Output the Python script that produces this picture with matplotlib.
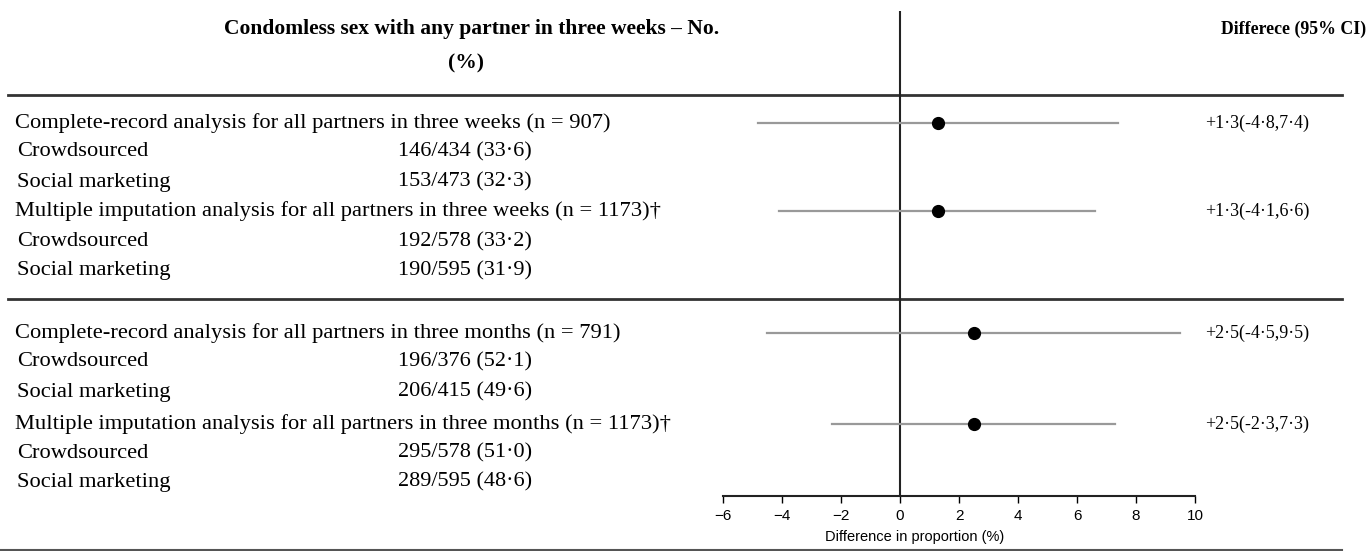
import matplotlib
matplotlib.use('Agg')
import matplotlib.pyplot as plt

# Table content
row_labels = [
    'Complete-record analysis for all partners in three weeks (n = 907)',
    'Crowdsourced', 'Social marketing',
    'Multiple imputation analysis for all partners in three weeks (n = 1173)\u2020',
    'Crowdsourced', 'Social marketing',
    'Complete-record analysis for all partners in three months (n = 791)',
    'Crowdsourced', 'Social marketing',
    'Multiple imputation analysis for all partners in three months (n = 1173)\u2020',
    'Crowdsourced', 'Social marketing',
]
row_counts = ['', '146/434 (33\u00b76)', '153/473 (32\u00b73)',
              '', '192/578 (33\u00b72)', '190/595 (31\u00b79)',
              '', '196/376 (52\u00b71)', '206/415 (49\u00b76)',
              '', '295/578 (51\u00b70)', '289/595 (48\u00b76)']

# Forest plot estimates (one per analysis)
est = [1.3, 1.3, 2.5, 2.5]
ci_low = [-4.8, -4.1, -4.5, -2.3]
ci_high = [7.4, 6.6, 9.5, 7.3]
ci_text = ['+1\u00b73(-4\u00b78,7\u00b74)', '+1\u00b73(-4\u00b71,6\u00b76)',
           '+2\u00b75(-4\u00b75,9\u00b75)', '+2\u00b75(-2\u00b73,7\u00b73)']
xticks = [-6, -4, -2, 0, 2, 4, 6, 8, 10]

# layout (pixel rows)
W, H = 1370, 551
row_y = [123, 152, 182, 211, 242, 271, 333, 362, 392, 424, 453, 482]
analysis_rows = [0, 3, 6, 9]
serif = 'Liberation Serif'
sans = 'Liberation Sans'

fig = plt.figure(figsize=(W / 100, H / 100), dpi=100)
bg = fig.add_axes([0, 0, 1, 1])
bg.set_xlim(0, W)
bg.set_ylim(H, 0)
bg.axis('off')

# headers
bg.text(472, 29, 'Condomless sex with any partner in three weeks \u2013 No.',
        ha='center', va='center', family=serif, fontweight='bold', fontsize=15.5)
bg.text(466, 63, '(%)', ha='center', va='center', family=serif,
        fontweight='bold', fontsize=15.5)
bg.text(1366, 29, 'Differece (95% CI)', ha='right', va='center', family=serif,
        fontweight='bold', fontsize=12.8)

# rule lines
for yl in [95, 299]:
    bg.plot([8, 1342], [yl, yl], color='#333333', lw=2)
bg.plot([0, 1342], [550, 550], color='#555555', lw=1.5)

for i, (lab, cnt) in enumerate(zip(row_labels, row_counts)):
    x0 = 15 if i in analysis_rows else 17
    bg.text(x0, row_y[i], lab, ha='left', va='center', family=serif, fontsize=16.2)
    if cnt:
        bg.text(398, row_y[i], cnt, ha='left', va='center', family=serif, fontsize=16)

for k, r in enumerate(analysis_rows):
    bg.text(1257, row_y[r], ci_text[k], ha='center', va='center',
            family=serif, fontsize=13)

# forest axes: x in difference units, y in pixel rows
x_left, x_right, y_axis, y_top = 723, 1195, 496, 11
ax = fig.add_axes([x_left / W, (H - y_axis) / H, (x_right - x_left) / W,
                   (y_axis - y_top) / H])
ax.set_xlim(-6, 10)
ax.set_ylim(y_axis, y_top)
ax.patch.set_alpha(0)
for s in ['top', 'left', 'right']:
    ax.spines[s].set_visible(False)
ax.spines['bottom'].set_linewidth(1.5)
ax.spines['bottom'].set_color('#222222')
ax.set_yticks([])
ax.set_xticks(xticks)
ax.tick_params(axis='x', direction='out', length=5, width=1, labelsize=11, pad=4)
for t in ax.get_xticklabels():
    t.set_family(sans)
ax.axvline(0, color='#222222', lw=1.5)
bg.text(915, 537, 'Difference in proportion (%)', ha='center', va='center',
        family=sans, fontsize=10.5)

for k, r in enumerate(analysis_rows):
    ax.plot([ci_low[k], ci_high[k]], [row_y[r], row_y[r]], color='#999999', lw=1.6)
    ax.plot(est[k], row_y[r], 'o', color='black', markersize=8.5)

fig.savefig('out.png', dpi=100)
